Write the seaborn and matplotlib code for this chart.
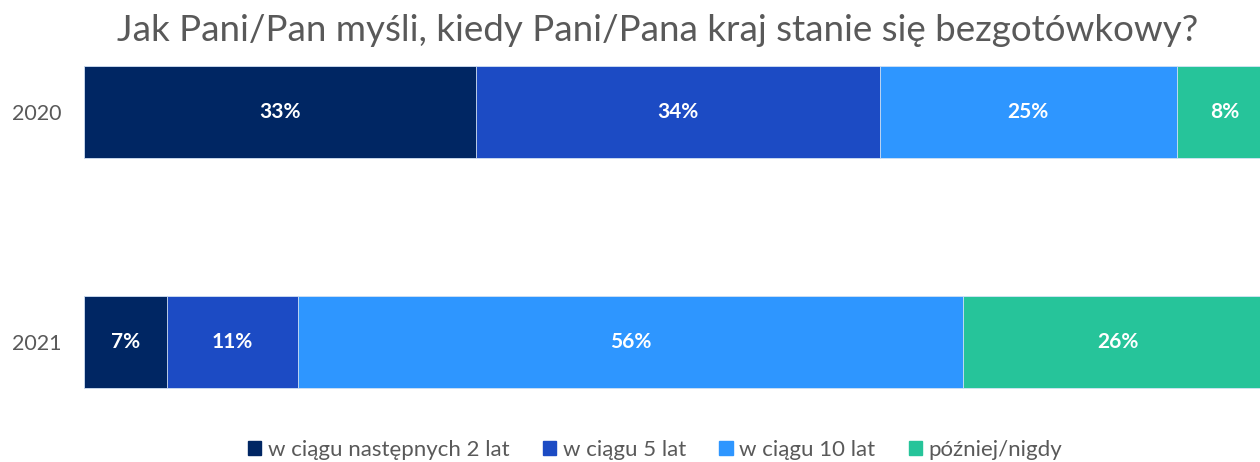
import seaborn as sns
import matplotlib.pyplot as plt
import matplotlib.patches as mpatches
import numpy as np
import pandas as pd

sns.set_theme(style='white')
plt.rcParams['font.family'] = ['Lato', 'DejaVu Sans']

years = ['2020', '2021']
categories = ['w ciągu następnych 2 lat', 'w ciągu 5 lat', 'w ciągu 10 lat', 'później/nigdy']
colors = ['#002663', '#1c4bc4', '#2e96ff', '#26c49a']
values_2020 = [33, 34, 25, 8]
values_2021 = [7, 11, 56, 26]
title = 'Jak Pani/Pan myśli, kiedy Pani/Pana kraj stanie się bezgotówkowy?'

# stacked bars = overlapping cumulative totals, drawn from the longest down
rows = []
for year, vals in zip(years, [values_2020, values_2021]):
    cum = np.cumsum(vals)
    for cat, v, c in zip(categories, vals, cum):
        rows.append({'year': year, 'cat': cat, 'value': v, 'cum': c})
df = pd.DataFrame(rows)

fig = plt.figure(figsize=(12.6, 4.62), dpi=100)
ax = fig.add_axes([84 / 1260, 51 / 462, 1176 / 1260, 368 / 462])

sns.barplot(data=df, x='cum', y='year', hue='cat', order=years,
            hue_order=categories[::-1], palette=dict(zip(categories, colors)),
            saturation=1, dodge=False, width=0.396, orient='h', ax=ax,
            edgecolor='#d6e4f5', linewidth=0.6, legend=False)

for _, r in df.iterrows():
    ax.text(r['cum'] - r['value'] / 2, years.index(r['year']), f"{r['value']}%",
            ha='center', va='center', color='white', fontsize=15, fontweight='bold')

# the original chart is cut off slightly before the 100% end
ax.set_xlim(0, 99)
ax.set_ylim(1.3, -0.3)
ax.set_xlabel('')
ax.set_ylabel('')
ax.set_xticks([])
ax.tick_params(axis='y', labelsize=15.5, labelcolor='#595959', length=0, pad=16)
sns.despine(ax=ax, left=True, bottom=True, top=True, right=True)

fig.text(0.522, 0.935, title, ha='center', va='center', fontsize=26.5, color='#595959')

handles = [mpatches.Patch(color=c, label=l) for c, l in zip(colors, categories)]
fig.legend(handles=handles, loc='center', bbox_to_anchor=(0.52, 0.026), ncol=4,
           frameon=False, fontsize=16, labelcolor='#595959', handlelength=0.6,
           handleheight=0.6, handletextpad=0.3, columnspacing=1.5)

fig.savefig('out.png', dpi=100)
